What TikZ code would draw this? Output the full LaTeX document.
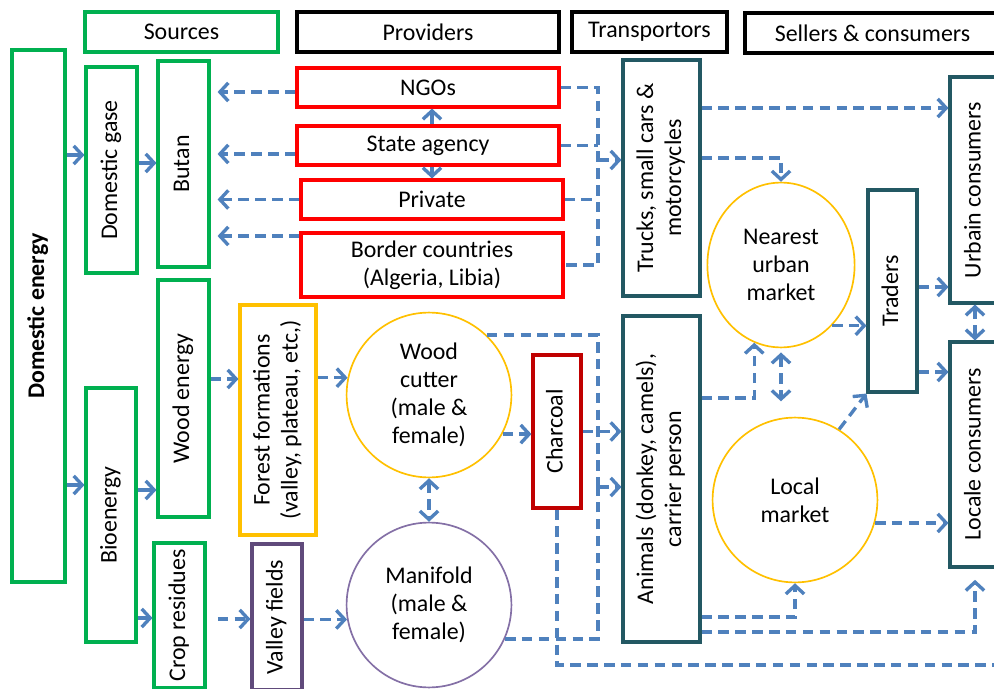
\documentclass[tikz,border=0pt]{standalone}
\usepackage{fontspec}
\setmainfont{Carlito}
\usepackage{graphicx}
\usetikzlibrary{arrows.meta,shapes.geometric}

\definecolor{flowblue}{HTML}{4F81BD}
\definecolor{srcgreen}{HTML}{00B050}
\definecolor{provred}{HTML}{FF0000}
\definecolor{coalred}{HTML}{C00000}
\definecolor{transteal}{HTML}{235863}
\definecolor{forestgold}{HTML}{FFC000}
\definecolor{fieldpurple}{HTML}{604A7B}
\definecolor{manipurple}{HTML}{8470A6}

\newcommand{\vtext}[1]{\rotatebox{90}{\begin{tabular}{@{}c@{}}#1\end{tabular}}}

\begin{document}
\begin{tikzpicture}[x=0.025cm, y=-0.025cm, font=\fontsize{17}{20}\selectfont,
  >={Straight Barb[length=6pt,width=13pt]},
  boxsize/.style 2 args={minimum width=#1*0.025cm, minimum height=#2*0.025cm},
  box/.style={draw, line width=2.2pt, inner sep=0pt},
  gbox/.style={box, draw=srcgreen},
  rbox/.style={box, draw=provred},
  tbox/.style={box, draw=transteal},
  hbox/.style={box, draw=black},
  ring/.style={draw, line width=1.2pt, inner sep=0pt, align=center},
  link/.style={draw=flowblue, line width=2.4pt, ->},
  dline/.style={draw=flowblue, line width=2.4pt, dash pattern=on 7.5pt off 4.5pt},
  flow/.style={dline, ->},
  flow2/.style={dline, <->}]
  \useasboundingbox (0,0) rectangle (994,689);

  % หัวข้อ
  \node[gbox, boxsize={193}{40}] (hsrc) at (181.5,32) {Sources};
  \node[hbox, boxsize={262}{40}] (hprov) at (428,32) {Providers};
  \node[hbox, boxsize={155}{40}] (htrans) at (649.5,32) {Transportors};
  \node[hbox, boxsize={255}{40}] (hsell) at (872.5,33) {Sellers \& consumers};

  % แหล่งพลังงาน
  \node[gbox, boxsize={53}{532}] (dom) at (38.5,316) {\vtext{\textbf{Domestic energy}}};
  \node[gbox, boxsize={51}{206}] (gas) at (111.5,170) {\vtext{Domestic gase}};
  \node[gbox, boxsize={51}{206}] (butan) at (183.5,164) {\vtext{Butan}};
  \node[gbox, boxsize={51}{237}] (wood) at (183.5,398.5) {\vtext{Wood energy}};
  \node[gbox, boxsize={50}{254}] (bio) at (111,515) {\vtext{Bioenergy}};
  \node[gbox, boxsize={51}{145}] (crop) at (179.5,615.5) {\vtext{Crop residues}};
  \node[box, draw=forestgold, boxsize={76}{230}] (forest) at (278,420) {\vtext{Forest formations\\(valley, plateau, etc,)}};
  \node[box, draw=fieldpurple, boxsize={50}{146}] (valley) at (277,617) {\vtext{Valley fields}};

  % ผู้จัดหา
  \node[rbox, boxsize={262}{39}] (ngo) at (428,87.5) {NGOs};
  \node[rbox, boxsize={262}{39}] (state) at (428,145.5) {State agency};
  \node[rbox, boxsize={262}{39}] (private) at (432,199.5) {Private};
  \node[rbox, boxsize={262}{64}, align=center] (border) at (432,265) {Border countries\\(Algeria, Libia)};

  % ผู้ขนส่ง
  \node[tbox, boxsize={77}{236}] (trucks) at (661.5,178) {\vtext{Trucks, small cars \&\\motorcycles}};
  \node[tbox, boxsize={77}{326}] (animals) at (661.5,479) {\vtext{Animals (donkey, camels),\\carrier person}};
  \node[box, draw=coalred, boxsize={48}{153}] (charcoal) at (557,431.5) {\vtext{Charcoal}};

  % ผู้ขายและผู้บริโภค
  \node[tbox, boxsize={49}{202}] (traders) at (892.5,291) {\vtext{Traders}};
  \node[tbox, boxsize={50}{226}] (urban) at (975,190) {\vtext{Urbain consumers}};
  \node[tbox, boxsize={50}{225}] (locale) at (975,454.5) {\vtext{Locale consumers}};

  % วงกลม
  \node[ring, circle, draw=forestgold, minimum size=4.12cm] (cutter) at (429,395) {Wood\\cutter\\(male \&\\female)};
  \node[ring, circle, draw=manipurple, minimum size=4.12cm] (manifold) at (429,605) {Manifold\\(male \&\\female)};
  \node[ring, ellipse, draw=forestgold, minimum width=3.68cm, minimum height=4.12cm] (nearest) at (781,265) {Nearest\\urban\\market};
  \node[ring, circle, draw=forestgold, minimum size=4.12cm] (local) at (795,500) {Local\\market};

  % ลูกศรทึบ
  \draw[link] (dom.east |- 0,155) -- (gas.west |- 0,155);
  \draw[link] (gas.east |- 0,163) -- (butan.west |- 0,163);
  \draw[link] (dom.east |- 0,485) -- (bio.west |- 0,485);
  \draw[link] (bio.east |- 0,490) -- (wood.west |- 0,490);
  \draw[link] (bio.east |- 0,618) -- (crop.west |- 0,618);
  \draw[link] (state.north -| private.north) -- (ngo.south -| private.north);
  \draw[link] (state.south -| private.north) -- (private.north);

  % ผู้จัดหา -> Butan
  \draw[flow, shorten >=5pt] (ngo.west |- 0,92) -- (butan.east |- 0,92);
  \draw[flow, shorten >=5pt] (state.west |- 0,154) -- (butan.east |- 0,154);
  \draw[flow, shorten >=5pt] (private.west) -- (private.west -| butan.east);
  \draw[flow, shorten >=5pt] (border.west |- 0,236) -- (butan.east |- 0,236);

  % ผู้จัดหา -> รถบรรทุก
  \coordinate (bus1) at (598,160);
  \draw[dline] (ngo.east) -| (border.east -| bus1) -- (border.east);
  \draw[dline] (state.east) -- (state.east -| bus1);
  \draw[dline] (private.east) -- (private.east -| bus1);
  \draw[flow] (bus1) -- (bus1 -| trucks.west);

  % รถบรรทุก -> ตลาด
  \draw[flow] (trucks.east |- 0,108) -- (urban.west |- 0,108);
  \draw[flow] (trucks.east |- 0,158) -| (nearest.north);

  % ตลาด -> ผู้บริโภค
  \draw[flow] (nearest.-50) -- (nearest.-50 -| traders.west);
  \draw[flow] (traders.east |- 0,287) -- (urban.west |- 0,287);
  \draw[flow] (traders.east |- 0,372) -- (locale.west |- 0,372);
  \draw[flow2] (urban.south) -- (locale.north);
  \draw[flow2, shorten <=3pt, shorten >=11pt] (nearest.south) -- (nearest.south |- local.north);
  \draw[flow] (local.58) -- (traders.south west);
  \draw[flow] (local.-16) -- (local.-16 -| locale.west);

  % สัตว์ -> ตลาด
  \draw[flow] (animals.east |- 0,398) -| (nearest.251);
  \draw[flow] (animals.east |- 0,617) -| (local.south);
  \draw[flow, shorten >=8pt] (animals.east |- 0,632) -| (locale.south);

  % ไม้และถ่าน
  \draw[flow] (wood.east |- 0,379) -- (forest.west |- 0,379);
  \draw[flow] (forest.east |- cutter.168) -- (cutter.168);
  \draw[flow, shorten <=8pt] (crop.east |- 0,619) -- (valley.west |- 0,619);
  \draw[flow] (valley.east |- manifold.190) -- (manifold.190);
  \draw[flow2] (cutter.south) -- (manifold.north);
  \draw[flow] (cutter.-28) -- (cutter.-28 -| charcoal.west);

  \coordinate (bus2) at (598,487);
  \draw[dline] (cutter.46) -| (bus2);
  \draw[dline] (manifold.-24) -| (bus2);
  \draw[flow] (bus2) -- (bus2 -| animals.west);
  \draw[flow] (charcoal.east) -- (charcoal.east -| animals.west);
  \coordinate (outright) at (1010,665);
  \draw[dline] (charcoal.south) |- (outright);
\end{tikzpicture}
\end{document}
